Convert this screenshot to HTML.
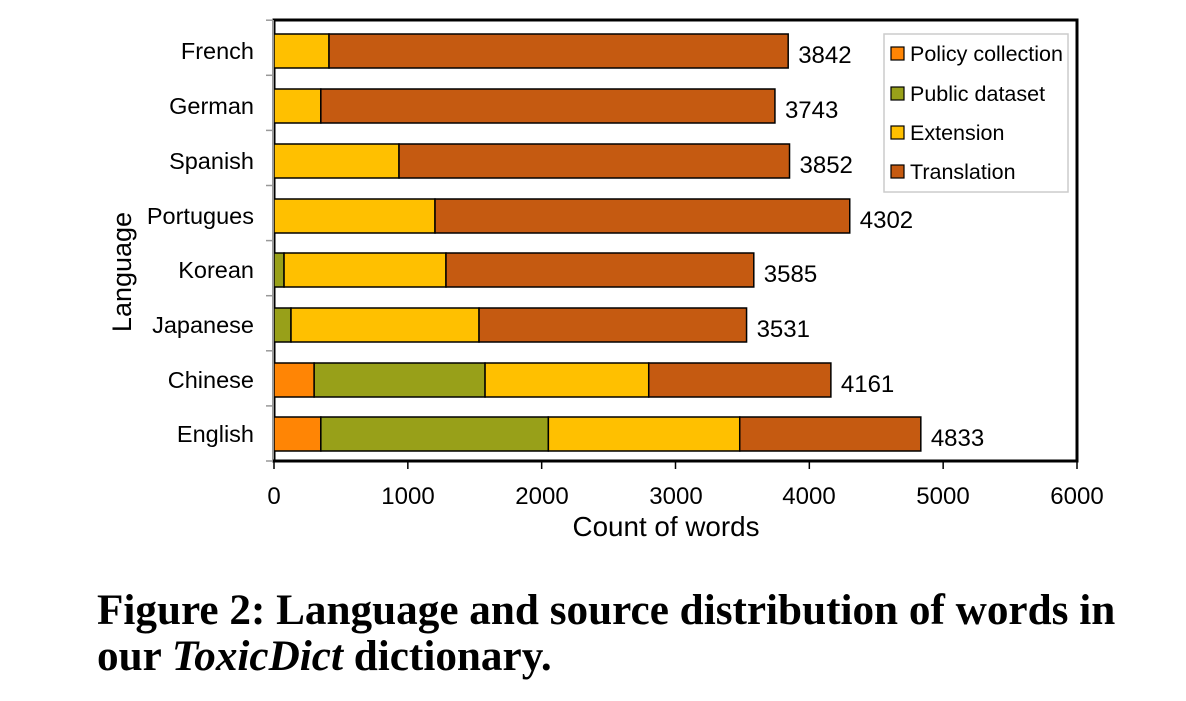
<!DOCTYPE html>
<html><head><meta charset="utf-8"><style>
body{margin:0;background:#fff;width:1186px;height:701px;overflow:hidden}
svg{position:absolute;left:0;top:0}
.cap{position:absolute;left:97px;top:588px;font-family:"Liberation Serif",serif;font-weight:bold;font-size:43.2px;line-height:46px;color:#000;white-space:nowrap}
</style></head><body>
<svg width="1186" height="701" font-family="Liberation Sans, sans-serif">
<rect x="274" y="20" width="803" height="441" fill="none" stroke="#000" stroke-width="3"/>
<g id="bars" stroke="#000" stroke-width="1.5"></g>
<line x1="273" y1="20" x2="273" y2="462" stroke="#999" stroke-width="2"/>
<line x1="273" y1="461" x2="1078" y2="461" stroke="#000" stroke-width="3"/>
<g id="ticks"></g>
<g font-size="23.5" fill="#000">
<text x="254" y="59" text-anchor="end">French</text>
<text x="254" y="114" text-anchor="end">German</text>
<text x="254" y="169" text-anchor="end">Spanish</text>
<text x="254" y="224" text-anchor="end">Portugues</text>
<text x="254" y="278" text-anchor="end">Korean</text>
<text x="254" y="333" text-anchor="end">Japanese</text>
<text x="254" y="388" text-anchor="end">Chinese</text>
<text x="254" y="442" text-anchor="end">English</text>
</g>
<g id="vals" font-size="24" fill="#000"></g>
<g font-size="24" fill="#000">
<text x="274" y="504" text-anchor="middle">0</text>
<text x="408" y="504" text-anchor="middle">1000</text>
<text x="542" y="504" text-anchor="middle">2000</text>
<text x="676" y="504" text-anchor="middle">3000</text>
<text x="809" y="504" text-anchor="middle">4000</text>
<text x="943" y="504" text-anchor="middle">5000</text>
<text x="1077" y="504" text-anchor="middle">6000</text>
<text x="666" y="536" text-anchor="middle" font-size="27.8">Count of words</text>
<text transform="translate(131,272) rotate(-90)" text-anchor="middle" font-size="27">Language</text>
</g>
<rect x="884" y="34" width="184" height="158" fill="#fff" stroke="#ccc" stroke-width="1.5"/>
<g stroke="#000" stroke-width="1.2">
<rect x="891" y="47" width="13" height="13" fill="#FF8505"/>
<rect x="891" y="87" width="13" height="13" fill="#98A019"/>
<rect x="891" y="126" width="13" height="13" fill="#FFC000"/>
<rect x="891" y="165" width="13" height="13" fill="#C55A11"/>
</g>
<g font-size="21.5">
<text x="910" y="61">Policy collection</text>
<text x="910" y="101">Public dataset</text>
<text x="910" y="140">Extension</text>
<text x="910" y="179">Translation</text>
</g>
</svg>
<div class="cap">Figure 2: Language and source distribution of words in<br>our <i>ToxicDict</i> dictionary.</div>
<script>
var s=803/6000,x0=274;
var cols=["#FF8505","#98A019","#FFC000","#C55A11"];
var d=[[0,0,411,3842],[0,0,350,3743],[0,0,934,3852],[0,0,1203,4302],[0,75,1285,3585],[0,127,1532,3531],[300,1577,2800,4161],[350,2050,3480,4833]];
var ys=[51,106,161,216,270,325,380,434];
var g=document.getElementById('bars'),h='',v='';
d.forEach(function(r,i){var p=0;r.forEach(function(val,j){if(val>p){h+='<rect x="'+(x0+p*s)+'" y="'+(ys[i]-17)+'" width="'+((val-p)*s)+'" height="34" fill="'+cols[j]+'"/>';p=val;}});
v+='<text x="'+(x0+r[3]*s+10)+'" y="'+(ys[i]+12)+'">'+r[3]+'</text>';});
g.innerHTML=h;document.getElementById('vals').innerHTML=v;
var t='';for(var i=0;i<=8;i++){var y=461-i*55.1;t+='<line x1="266" y1="'+y+'" x2="273" y2="'+y+'" stroke="#999" stroke-width="1.5"/>';}
for(var k=0;k<=6;k++){var x=x0+k*1000*s;t+='<line x1="'+x+'" y1="461" x2="'+x+'" y2="469" stroke="#000" stroke-width="1.5"/>';}
document.getElementById('ticks').innerHTML=t;
</script>
</body></html>
